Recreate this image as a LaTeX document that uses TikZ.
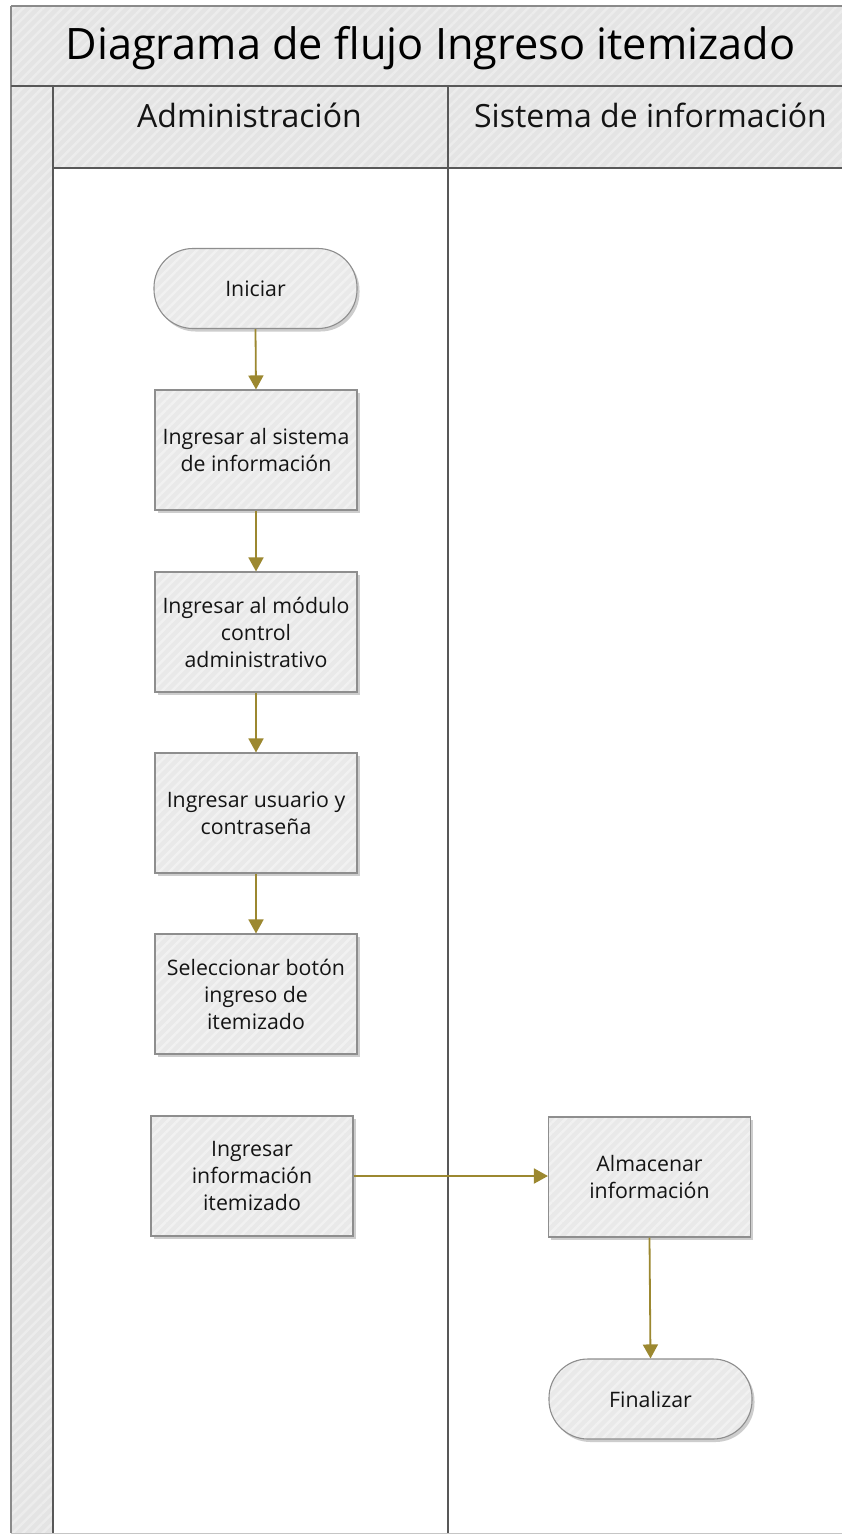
\documentclass[tikz,border=0pt]{standalone}
\usepackage{fontspec}
\setmainfont{Open Sans}
\usetikzlibrary{arrows.meta,shadows,patterns.meta}

\definecolor{bandgray}{HTML}{E4E4E4}
\definecolor{bandstripe}{HTML}{ECECEC}
\definecolor{boxfill}{HTML}{E9E9E9}
\definecolor{boxstripe}{HTML}{F1F1F1}
\definecolor{boxline}{HTML}{8E8E8E}
\definecolor{laneline}{HTML}{585858}
\definecolor{outerline}{HTML}{8A8A8A}
\definecolor{flow}{HTML}{9C8830}
\definecolor{ink}{HTML}{141414}

\tikzset{
  bandfill/.style={preaction={fill=bandgray},
    pattern={Lines[angle=45,distance=7pt,line width=2.5pt]}, pattern color=bandstripe},
  boxhatch/.style={preaction={fill=boxfill},
    pattern={Lines[angle=45,distance=7pt,line width=2.5pt]}, pattern color=boxstripe},
  boxshadow/.style={drop shadow={shadow xshift=2.5pt, shadow yshift=-3pt, opacity=0.28, fill=black!70}},
  stepbox/.style={boxshadow, boxhatch, draw=boxline, line width=1.1pt,
    minimum width=202pt, minimum height=120pt, inner sep=3pt, align=center,
    text=ink, font=\fontsize{21.3}{27}\selectfont},
  terminal/.style={boxshadow, boxhatch, draw=boxline, line width=1.1pt,
    rounded corners=39pt, minimum width=203pt, minimum height=80pt, align=center,
    text=ink, font=\fontsize{21.3}{27}\selectfont},
  flowarrow/.style={draw=flow, line width=1.8pt, -{Triangle[width=15pt,length=14pt]}},
  laneborder/.style={draw=laneline, line width=1.7pt},
  outerborder/.style={draw=outerline, line width=1.4pt},
}

\begin{document}
\begin{tikzpicture}[x=1pt,y=-1pt]
  \useasboundingbox (0,0) rectangle (841,1536);
  \fill[white] (0,0) rectangle (841,1536);

  % pool: title band, vertical strip, lane headers, lane bodies
  \fill[bandfill] (11,6) rectangle (870,86);
  \fill[bandfill] (11,86) rectangle (53,1533);
  \fill[bandfill] (53,86) rectangle (870,168);
  \fill[white] (53,168) rectangle (870,1533);

  \draw[outerborder] (11,6) -- (870,6);
  \draw[outerborder] (11,6) -- (11,1533);
  \draw[draw=outerline!50, line width=1pt] (11,1533) -- (870,1533);
  \draw[laneborder] (11,86) -- (870,86);
  \draw[laneborder] (53,86) -- (53,1533);
  \draw[laneborder] (53,168) -- (870,168);
  \draw[laneborder] (448,86) -- (448,1533);

  \node[anchor=base, text=black, font=\fontsize{43.3}{50}\selectfont] (title) at (430.5,60)
    {Diagrama de flujo Ingreso itemizado};
  \node[anchor=base, text=ink, font=\fontsize{32}{38}\selectfont] (laneadmin) at (249.5,128)
    {Administración};
  \node[anchor=base, text=ink, font=\fontsize{32}{38}\selectfont] (lanesys) at (650.5,128)
    {Sistema de información};

  % process steps
  \node[terminal] (iniciar) at (255.5,288.5) {Iniciar};
  \node[stepbox] (sistema) at (256,450) {Ingresar al sistema\\de información};
  \node[stepbox] (modulo) at (256,632) {Ingresar al módulo\\control\\administrativo};
  \node[stepbox] (usuario) at (256,813) {Ingresar usuario y\\contraseña};
  \node[stepbox] (boton) at (256,994) {Seleccionar botón\\ingreso de\\itemizado};
  \node[stepbox] (info) at (252,1176) {Ingresar\\información\\itemizado};
  \node[stepbox] (almacenar) at (649.5,1177) {Almacenar\\información};
  \node[terminal] (finalizar) at (650.5,1399) {Finalizar};

  % connectors
  \draw[flowarrow] (iniciar.south) -- (sistema.north);
  \draw[flowarrow] (sistema.south) -- (modulo.north);
  \draw[flowarrow] (modulo.south) -- (usuario.north);
  \draw[flowarrow] (usuario.south) -- (boton.north);
  \draw[flowarrow] (info.east) -- (info.east -| almacenar.west);
  \draw[flowarrow] (almacenar.south) -- (finalizar.north);
\end{tikzpicture}
\end{document}
